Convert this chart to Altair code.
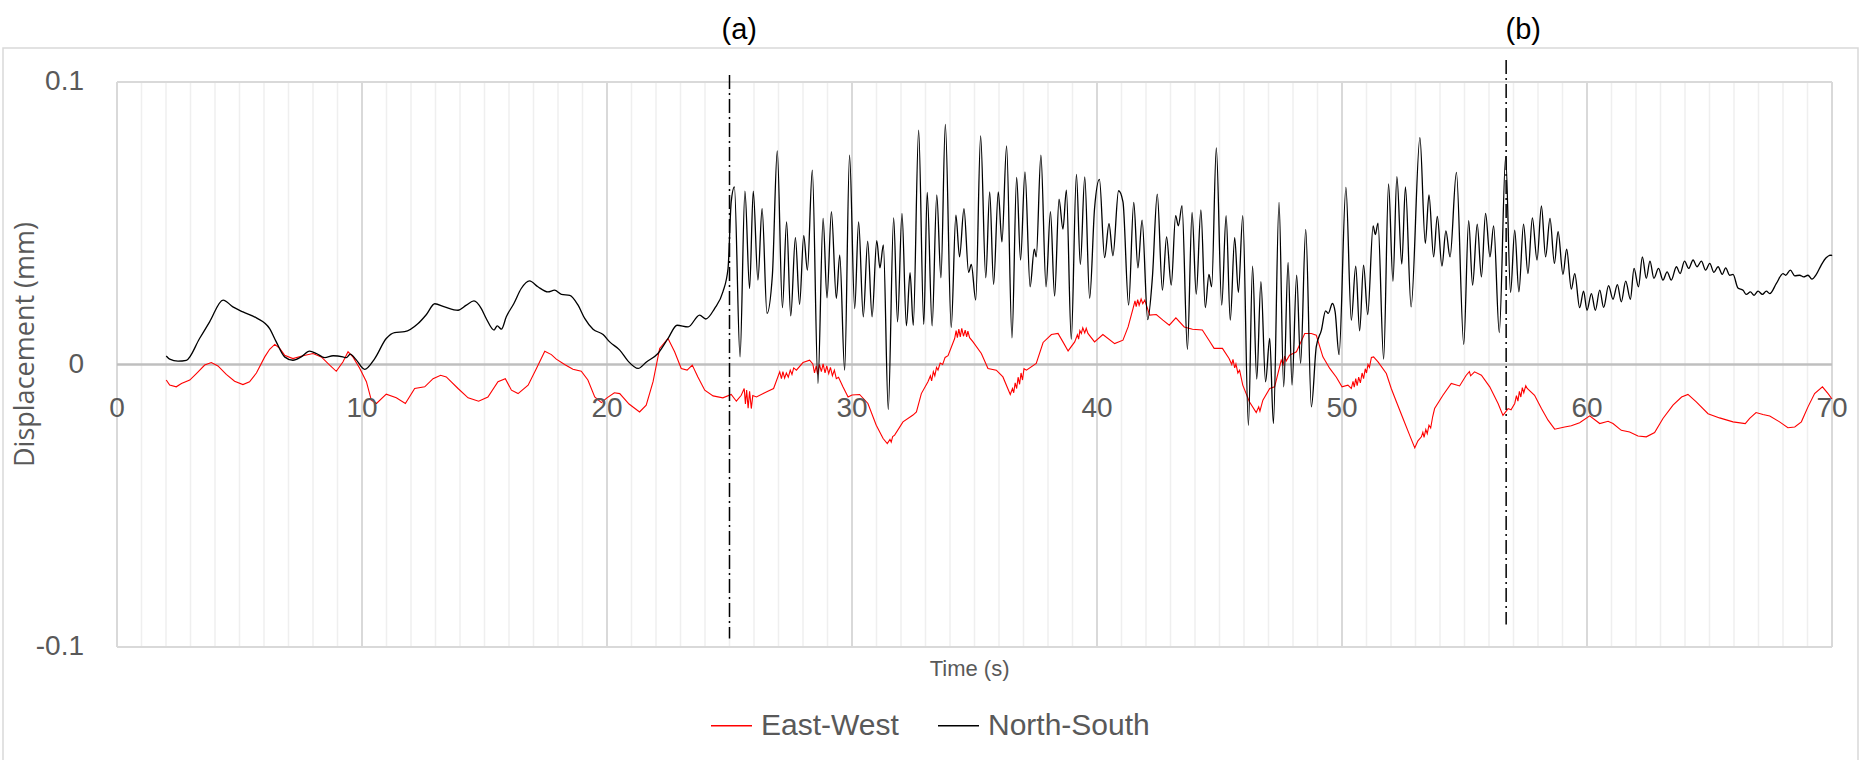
import altair as alt
import pandas as pd

# ---------------- data ----------------
ns_t = [2.01, 2.15, 2.49, 2.83, 3.37, 3.78, 4.33, 4.73, 5.14, 5.69, 6.23, 6.50, 6.84, 7.18, 7.52, 7.86, 8.14, 8.48, 8.82, 9.22, 9.36, 9.52, 9.75,
        10.11, 10.52, 10.99, 11.33, 11.74, 12.29, 12.63, 12.97, 13.37, 13.92, 14.26, 14.57, 14.87, 15.07, 15.39, 15.52, 15.69, 15.89,
        16.20, 16.50, 16.84, 17.18, 17.59, 17.86, 18.14, 18.48, 18.82, 19.09, 19.43, 19.84, 20.11, 20.52, 20.86, 21.27, 21.61, 22.08,
        22.49, 22.86, 23.31, 23.78, 24.03, 24.39, 24.73, 24.94, 25.07, 25.20, 25.43, 25.63, 25.82, 25.97, 26.16, 26.33, 26.53, 26.75,
        26.95, 27.16, 27.33, 27.50, 27.69, 27.86, 28.03, 28.18, 28.38, 28.61, 28.82, 28.98, 29.16, 29.36, 29.50, 29.70, 29.90,
        30.11, 30.27, 30.46, 30.64, 30.82, 31.01, 31.14, 31.28, 31.48, 31.70, 31.86, 32.04, 32.22, 32.37, 32.50, 32.72, 32.93, 33.07,
        33.27, 33.46, 33.63, 33.81, 34.05, 34.24, 34.39, 34.57, 34.76, 34.87, 35.05, 35.25, 35.46, 35.62, 35.78, 35.97, 36.12, 36.31,
        36.53, 36.72, 36.88, 37.06, 37.27, 37.44, 37.52, 37.71, 37.92, 38.10, 38.27, 38.45, 38.61, 38.75, 38.95, 39.16, 39.32, 39.50,
        39.70, 39.90, 40.10, 40.31, 40.49, 40.65, 40.88, 41.06, 41.29, 41.50, 41.67, 41.84, 42.07, 42.26, 42.46, 42.67, 42.84, 43.03,
        43.21, 43.32, 43.47, 43.69, 43.88, 44.05, 44.24, 44.42, 44.57, 44.68, 44.87, 45.09, 45.27, 45.44, 45.62, 45.77, 45.95, 46.18,
        46.35, 46.52, 46.69, 46.88, 47.05, 47.20, 47.43, 47.62, 47.80, 47.96, 48.15, 48.31, 48.52, 48.75, 48.95, 49.16, 49.33, 49.44,
        49.61, 49.72, 49.88, 50.16, 50.38, 50.56, 50.72, 50.88, 51.05, 51.27, 51.36, 51.47, 51.70, 51.90, 52.08, 52.24, 52.44, 52.59,
        52.82, 53.18, 53.40, 53.55, 53.74, 53.89, 54.08, 54.24, 54.41, 54.67, 54.97, 55.17, 55.33, 55.52, 55.69, 55.86, 56.04, 56.19,
        56.42, 56.68, 56.88, 57.05, 57.22, 57.41, 57.59, 57.77, 57.96, 58.14, 58.31, 58.49, 58.67, 58.82, 59.02, 59.17, 59.36, 59.50,
        59.70, 59.86, 60.00, 60.18, 60.34, 60.52, 60.68, 60.88, 61.06, 61.24, 61.40, 61.58, 61.77, 61.92, 62.10, 62.26, 62.42, 62.57,
        62.73, 62.92, 63.10, 63.27, 63.44, 63.65, 63.80, 63.98, 64.15, 64.33, 64.49, 64.67, 64.84, 65.01, 65.18, 65.35, 65.52, 65.66,
        65.82, 65.96, 66.16, 66.37, 66.50, 66.67, 66.82, 66.98, 67.16, 67.32, 67.46, 67.73, 68.00, 68.11, 68.30, 68.48, 68.68, 68.84,
        69.02, 69.18, 69.36, 69.56, 69.76, 69.97, 70.00]
ns_v = [0.0030, 0.0019, 0.0012, 0.0015, 0.0092, 0.0151, 0.0228, 0.0204, 0.0186, 0.0165, 0.0127, 0.0080, 0.0027, 0.0015, 0.0027, 0.0047, 0.0039, 0.0024, 0.0031, 0.0027, 0.0024, 0.0037, 0.0018,
        -0.0017, 0.0021, 0.0092, 0.0113, 0.0116, 0.0145, 0.0177, 0.0215, 0.0204, 0.0192, 0.0210, 0.0225, 0.0198, 0.0163, 0.0122, 0.0137, 0.0125, 0.0169,
        0.0216, 0.0269, 0.0296, 0.0275, 0.0257, 0.0263, 0.0248, 0.0245, 0.0210, 0.0163, 0.0125, 0.0106, 0.0080, 0.0051, 0.0012, -0.0014, 0.0009, 0.0039,
        0.0092, 0.0139, 0.0133, 0.0175, 0.0161, 0.0198, 0.0257, 0.0340, 0.0576, 0.0629, 0.0027, 0.0614, 0.0269, 0.0614, 0.0299, 0.0552, 0.0181, 0.0316,
        0.0756, 0.0201, 0.0505, 0.0172, 0.0449, 0.0213, 0.0456, 0.0334, 0.0688, -0.0067, 0.0517, 0.0236, 0.0541, 0.0234, 0.0387, -0.0020, 0.0741,
        0.0198, 0.0505, 0.0169, 0.0437, 0.0169, 0.0438, 0.0342, 0.0423, -0.0159, 0.0519, 0.0151, 0.0535, 0.0137, 0.0325, 0.0139, 0.0830, 0.0142, 0.0609,
        0.0137, 0.0600, 0.0307, 0.0850, 0.0131, 0.0529, 0.0381, 0.0552, 0.0326, 0.0354, 0.0228, 0.0809, 0.0307, 0.0611, 0.0284, 0.0611, 0.0434, 0.0774,
        0.0094, 0.0662, 0.0370, 0.0682, 0.0275, 0.0408, 0.0381, 0.0741, 0.0275, 0.0541, 0.0242, 0.0585, 0.0479, 0.0617, 0.0090, 0.0673, 0.0354, 0.0664,
        0.0234, 0.0552, 0.0655, 0.0378, 0.0499, 0.0385, 0.0615, 0.0576, 0.0210, 0.0574, 0.0342, 0.0511, 0.0159, 0.0307, 0.0603, 0.0263, 0.0452, 0.0281,
        0.0527, 0.0491, 0.0562, 0.0054, 0.0538, 0.0249, 0.0547, 0.0201, 0.0319, 0.0275, 0.0767, 0.0210, 0.0527, 0.0157, 0.0449, 0.0255, 0.0527, -0.0215,
        0.0348, -0.0052, 0.0293, -0.0061, 0.0092, -0.0209, 0.0574, -0.0079, 0.0361, -0.0073, 0.0316, 0.0004, 0.0478, -0.0150, 0.0063, 0.0122, 0.0190, 0.0181,
        0.0216, 0.0186, 0.0035, 0.0627, 0.0157, 0.0348, 0.0119, 0.0352, 0.0177, 0.0491, 0.0460, 0.0500, 0.0019, 0.0639, 0.0295, 0.0665, 0.0355, 0.0629,
        0.0204, 0.0803, 0.0429, 0.0600, 0.0381, 0.0524, 0.0348, 0.0473, 0.0381, 0.0680, 0.0071, 0.0509, 0.0281, 0.0497, 0.0310, 0.0535, 0.0381, 0.0491,
        0.0113, 0.0736, 0.0255, 0.0476, 0.0257, 0.0497, 0.0322, 0.0519, 0.0370, 0.0561, 0.0381, 0.0517, 0.0358, 0.0470, 0.0319, 0.0408, 0.0267, 0.0322,
        0.0201, 0.0260, 0.0192, 0.0251, 0.0192, 0.0263, 0.0202, 0.0279, 0.0231, 0.0283, 0.0222, 0.0295, 0.0231, 0.0340, 0.0275, 0.0381, 0.0305, 0.0366,
        0.0305, 0.0340, 0.0299, 0.0328, 0.0299, 0.0346, 0.0322, 0.0366, 0.0340, 0.0370, 0.0346, 0.0366, 0.0334, 0.0358, 0.0326, 0.0346, 0.0319, 0.0342,
        0.0316, 0.0319, 0.0271, 0.0263, 0.0248, 0.0257, 0.0245, 0.0260, 0.0248, 0.0260, 0.0251, 0.0287, 0.0322, 0.0316, 0.0334, 0.0314, 0.0316, 0.0310,
        0.0316, 0.0302, 0.0319, 0.0352, 0.0378, 0.0387, 0.0385]

# East-West series, (time, displacement) pairs, one list per ten seconds
ew_00 = [(2.01, -0.0055), (2.15, -0.0073), (2.42, -0.0079), (2.63, -0.0067), (2.97, -0.0055), (3.24, -0.0032), (3.58, -0.0002),
         (3.85, 0.0007), (4.12, -0.0005), (4.46, -0.0035), (4.80, -0.0059), (5.14, -0.0071), (5.41, -0.0061), (5.69, -0.0030),
         (6.03, 0.0027), (6.23, 0.0054), (6.44, 0.0071), (6.64, 0.0057), (6.84, 0.0033), (7.18, 0.0021), (7.59, 0.0031), (8.00, 0.0039),
         (8.34, 0.0027), (8.68, -0.0002), (8.95, -0.0024), (9.22, 0.0009), (9.43, 0.0045), (9.63, 0.0027), (9.90, -0.0012)]
ew_10 = [(10.18, -0.0061), (10.38, -0.0126), (10.59, -0.0138), (10.99, -0.0105), (11.40, -0.0118), (11.77, -0.0138), (12.15, -0.0085),
         (12.56, -0.0079), (12.90, -0.0050), (13.21, -0.0038), (13.44, -0.0044), (13.92, -0.0085), (14.33, -0.0118), (14.76, -0.0130),
         (15.14, -0.0115), (15.55, -0.0061), (15.85, -0.0050), (16.10, -0.0091), (16.37, -0.0103), (16.78, -0.0073), (17.12, -0.0014),
         (17.46, 0.0047), (17.73, 0.0035), (17.93, 0.0019), (18.27, 0.0000), (18.61, -0.0017), (18.95, -0.0024), (19.22, -0.0055),
         (19.50, -0.0115), (19.77, -0.0135)]
ew_20 = [(20.00, -0.0118), (20.30, -0.0100), (20.52, -0.0103), (20.90, -0.0140), (21.33, -0.0168), (21.60, -0.0144), (21.88, -0.0061),
         (22.15, 0.0057), (22.49, 0.0092), (22.76, 0.0045), (23.03, -0.0014), (23.27, -0.0020), (23.48, -0.0002), (23.71, -0.0044),
         (23.99, -0.0091), (24.33, -0.0111), (24.73, -0.0118), (25.07, -0.0106), (25.28, -0.0130), (25.48, -0.0109), (25.60, -0.0085),
         (25.65, -0.0140), (25.70, -0.0090), (25.76, -0.0155), (25.82, -0.0095), (25.89, -0.0156), (25.95, -0.0110), (26.10, -0.0115),
         (26.50, -0.0097), (26.80, -0.0085), (27.05, -0.0026), (27.12, -0.0050), (27.18, -0.0025), (27.25, -0.0048), (27.32, -0.0030),
         (27.40, -0.0045), (27.48, -0.0020), (27.55, -0.0035), (27.62, -0.0012), (27.73, -0.0020), (28.00, 0.0007), (28.27, 0.0015),
         (28.40, 0.0002), (28.47, -0.0030), (28.54, -0.0005), (28.60, -0.0035), (28.67, 0.0000), (28.75, -0.0025), (28.82, 0.0002),
         (28.90, -0.0030), (28.97, -0.0005), (29.05, -0.0032), (29.12, -0.0010), (29.20, -0.0040), (29.28, -0.0020), (29.36, -0.0050),
         (29.45, -0.0045), (29.63, -0.0079), (29.84, -0.0115)]
ew_30 = [(30.00, -0.0108), (30.31, -0.0106), (30.65, -0.0138), (30.99, -0.0215), (31.27, -0.0262), (31.44, -0.0280), (31.55, -0.0265),
         (31.60, -0.0275), (31.66, -0.0255), (31.74, -0.0250), (32.08, -0.0203), (32.49, -0.0179), (32.63, -0.0168), (32.83, -0.0103),
         (33.10, -0.0061), (33.20, -0.0040), (33.25, -0.0058), (33.32, -0.0025), (33.38, -0.0040), (33.45, -0.0010), (33.51, -0.0020),
         (33.60, 0.0005), (33.70, 0.0000), (33.80, 0.0025), (33.92, 0.0031), (34.19, 0.0092), (34.25, 0.0120), (34.30, 0.0095),
         (34.36, 0.0125), (34.42, 0.0098), (34.48, 0.0128), (34.55, 0.0100), (34.62, 0.0122), (34.68, 0.0098), (34.73, 0.0118),
         (34.80, 0.0095), (34.94, 0.0080), (35.28, 0.0039), (35.55, -0.0014), (35.89, -0.0020), (36.16, -0.0044), (36.46, -0.0106),
         (36.55, -0.0085), (36.60, -0.0100), (36.66, -0.0065), (36.72, -0.0085), (36.78, -0.0045), (36.84, -0.0070), (36.90, -0.0030),
         (36.96, -0.0055), (37.02, -0.0015), (37.12, -0.0020), (37.52, 0.0004), (37.80, 0.0078), (38.14, 0.0106), (38.41, 0.0110),
         (38.61, 0.0080), (38.82, 0.0048), (39.09, 0.0080), (39.20, 0.0105), (39.25, 0.0090), (39.30, 0.0120), (39.36, 0.0110),
         (39.42, 0.0130), (39.50, 0.0112), (39.56, 0.0128), (39.63, 0.0110), (39.90, 0.0080)]
ew_40 = [(40.24, 0.0106), (40.72, 0.0074), (41.06, 0.0086), (41.27, 0.0133), (41.47, 0.0198), (41.55, 0.0225), (41.60, 0.0205),
         (41.66, 0.0230), (41.72, 0.0210), (41.80, 0.0232), (41.87, 0.0215), (41.95, 0.0228), (42.15, 0.0175), (42.42, 0.0177),
         (42.69, 0.0157), (42.95, 0.0139), (43.22, 0.0165), (43.56, 0.0133), (43.90, 0.0125), (44.30, 0.0122), (44.57, 0.0086),
         (44.78, 0.0057), (45.12, 0.0057), (45.39, 0.0021), (45.50, 0.0000), (45.55, 0.0018), (45.62, -0.0012), (45.67, 0.0002),
         (45.75, -0.0030), (45.82, -0.0020), (45.95, -0.0073), (46.22, -0.0132), (46.50, -0.0170), (46.60, -0.0150), (46.65, -0.0165),
         (46.77, -0.0126), (47.05, -0.0085), (47.25, -0.0079), (47.52, 0.0015), (47.60, 0.0000), (47.66, 0.0030), (47.72, 0.0012),
         (47.86, 0.0033), (48.14, 0.0045), (48.48, 0.0110), (48.75, 0.0110), (48.95, 0.0104), (49.22, 0.0027), (49.50, -0.0014),
         (49.77, -0.0045)]
ew_50 = [(50.00, -0.0079), (50.24, -0.0073), (50.38, -0.0085), (50.45, -0.0060), (50.50, -0.0080), (50.56, -0.0050), (50.62, -0.0075),
         (50.68, -0.0045), (50.75, -0.0065), (50.82, -0.0030), (50.88, -0.0050), (50.95, -0.0015), (51.00, -0.0030), (51.06, 0.0000),
         (51.12, -0.0010), (51.20, 0.0025), (51.29, 0.0027), (51.47, 0.0009), (51.81, -0.0032), (52.01, -0.0085), (52.22, -0.0132),
         (52.49, -0.0191), (52.76, -0.0250), (52.97, -0.0295), (53.10, -0.0270), (53.24, -0.0256), (53.30, -0.0240), (53.35, -0.0258),
         (53.42, -0.0230), (53.48, -0.0245), (53.55, -0.0215), (53.62, -0.0225), (53.70, -0.0185), (53.78, -0.0156), (54.12, -0.0109),
         (54.46, -0.0067), (54.80, -0.0076), (55.07, -0.0038), (55.20, -0.0025), (55.25, -0.0040), (55.41, -0.0026), (55.69, -0.0038),
         (56.03, -0.0079), (56.37, -0.0138), (56.57, -0.0180), (56.78, -0.0156), (56.90, -0.0160), (57.05, -0.0138), (57.12, -0.0110),
         (57.18, -0.0130), (57.24, -0.0095), (57.30, -0.0115), (57.36, -0.0082), (57.42, -0.0100), (57.50, -0.0075), (57.56, -0.0085),
         (57.86, -0.0109), (58.14, -0.0156), (58.41, -0.0197), (58.68, -0.0229), (59.09, -0.0221), (59.36, -0.0217), (59.70, -0.0206)]
ew_60 = [(60.11, -0.0182), (60.52, -0.0209), (60.86, -0.0201), (61.06, -0.0209), (61.40, -0.0233), (61.74, -0.0239), (62.08, -0.0253),
         (62.42, -0.0256), (62.76, -0.0241), (63.10, -0.0191), (63.51, -0.0144), (63.86, -0.0115), (64.12, -0.0106), (64.46, -0.0132),
         (64.94, -0.0174), (65.41, -0.0189), (65.96, -0.0203), (66.46, -0.0209), (66.64, -0.0191), (66.90, -0.0170), (67.18, -0.0177),
         (67.46, -0.0182), (67.86, -0.0203), (68.20, -0.0224), (68.48, -0.0221), (68.75, -0.0203), (69.02, -0.0150), (69.29, -0.0103),
         (69.61, -0.0079), (69.84, -0.0103), (70.00, -0.0122)]

series_names = ["East-West", "North-South"]
series_colors = ["#ff0000", "#000000"]

x_major = [0, 10, 20, 30, 40, 50, 60, 70]
x_major_labels = ["0", "10", "20", "30", "40", "50", "60", "70"]
x_minor = [1, 2, 3, 4, 5, 6, 7, 8, 9, 11, 12, 13, 14, 15, 16, 17, 18, 19, 21, 22, 23, 24, 25, 26, 27, 28, 29,
           31, 32, 33, 34, 35, 36, 37, 38, 39, 41, 42, 43, 44, 45, 46, 47, 48, 49, 51, 52, 53, 54, 55, 56, 57, 58, 59,
           61, 62, 63, 64, 65, 66, 67, 68, 69]
y_ticks = [0.1, 0, -0.1]
y_tick_labels = ["0.1", "0", "-0.1"]
y_edges = [0.1, -0.1]

marker_t = [25.0, 56.7]
marker_top = [0.1025, 0.1078]
marker_bottom = [-0.097, -0.092]
marker_label_t = [25.4, 57.4]
marker_labels = ["(a)", "(b)"]

# ---------------- chart ----------------
W, H = 1715, 565
FONT = "Liberation Sans Narrow, Arial Narrow, Liberation Sans, sans-serif"
GREY = "#595959"

xs = alt.Scale(domain=[0, 70], nice=False, zero=False)
ys = alt.Scale(domain=[-0.1, 0.1], nice=False, zero=False)

ew_pts = ew_00 + ew_10 + ew_20 + ew_30 + ew_40 + ew_50 + ew_60
df_ew = pd.DataFrame({"t": [p[0] for p in ew_pts], "v": [p[1] for p in ew_pts], "s": series_names[0]})
df_ns = pd.DataFrame({"t": ns_t, "v": ns_v, "s": series_names[1]})

one = pd.DataFrame({"k": [0]})

border = alt.Chart(one).mark_rect(fill="white", fillOpacity=0, stroke="#d9d9d9", strokeWidth=1.5).encode(
    x=alt.value(-114), x2=alt.value(1741), y=alt.value(-34), y2=alt.value(700))

minor = alt.Chart(pd.DataFrame({"t": x_minor})).mark_rule(color="#efefef", strokeWidth=1.5).encode(
    x=alt.X("t:Q", scale=xs, axis=None), y=alt.value(0), y2=alt.value(H))
major = alt.Chart(pd.DataFrame({"t": x_major})).mark_rule(color="#d9d9d9", strokeWidth=2).encode(
    x=alt.X("t:Q", scale=xs, axis=None), y=alt.value(0), y2=alt.value(H))
edges = alt.Chart(pd.DataFrame({"v": y_edges})).mark_rule(color="#d9d9d9", strokeWidth=2).encode(
    y=alt.Y("v:Q", scale=ys, axis=None), x=alt.value(0), x2=alt.value(W))
zero = alt.Chart(pd.DataFrame({"v": [0]})).mark_rule(color="#bfbfbf", strokeWidth=2.5).encode(
    y=alt.Y("v:Q", scale=ys, axis=None), x=alt.value(0), x2=alt.value(W))

# tick labels (the horizontal axis crosses at zero, as in the reference)
x_labels = alt.Chart(pd.DataFrame({"t": x_major, "lab": x_major_labels})).mark_text(
    font=FONT, fontSize=28, color=GREY, align="center", baseline="alphabetic").encode(
    x=alt.X("t:Q", scale=xs, axis=None), y=alt.value(H / 2 + 52), text="lab:N")
y_labels = alt.Chart(pd.DataFrame({"v": y_ticks, "lab": y_tick_labels})).mark_text(
    font=FONT, fontSize=28, color=GREY, align="right", baseline="middle").encode(
    y=alt.Y("v:Q", scale=ys, axis=None), x=alt.value(-33), text="lab:N")
y_title = alt.Chart(pd.DataFrame({"lab": ["Displacement (mm)"]})).mark_text(
    font="Open Sans", fontSize=27, color=GREY, align="center", baseline="middle", angle=270).encode(
    x=alt.value(-91), y=alt.value(H / 2 - 20), text="lab:N")

legend = alt.Legend(orient="none", legendX=593, legendY=622, direction="horizontal",
                    title=None, symbolType="stroke", symbolSize=1681,
                    symbolStrokeWidth=1.5, labelFont=FONT, labelFontSize=30, labelLimit=600,
                    labelColor=GREY, columnPadding=36, labelOffset=8)
color = alt.Color("s:N", scale=alt.Scale(domain=series_names, range=series_colors), legend=legend)

ew_line = alt.Chart(df_ew).mark_line(strokeWidth=1.1).encode(
    x=alt.X("t:Q", scale=xs, axis=None),
    y=alt.Y("v:Q", scale=ys, axis=None),
    color=color,
    order=alt.Order("t:Q"),
)
ns_line = alt.Chart(df_ns).mark_line(strokeWidth=1.3, interpolate="monotone").encode(
    x=alt.X("t:Q", scale=xs, axis=None),
    y=alt.Y("v:Q", scale=ys, axis=None),
    color=color,
    order=alt.Order("t:Q"),
)

markers = alt.Chart(pd.DataFrame({"t": marker_t, "top": marker_top, "bot": marker_bottom})).mark_rule(
    color="black", strokeWidth=1.5, strokeDash=[14, 4, 2, 4]).encode(
    x=alt.X("t:Q", scale=xs, axis=None), y=alt.Y("top:Q", scale=ys, axis=None), y2="bot:Q")

marker_text = alt.Chart(pd.DataFrame({"t": marker_label_t, "lab": marker_labels, "y": [0.1183, 0.1183]})).mark_text(
    font=FONT, fontSize=29, color="black", baseline="middle", align="center").encode(
    x=alt.X("t:Q", scale=xs, axis=None), y=alt.Y("y:Q", scale=ys, axis=None), text="lab:N")

xtitle = alt.Chart(pd.DataFrame({"t": [34.8], "y": [-0.1078], "lab": ["Time (s)"]})).mark_text(
    font=FONT, fontSize=22, color=GREY, baseline="middle", align="center").encode(
    x=alt.X("t:Q", scale=xs, axis=None), y=alt.Y("y:Q", scale=ys, axis=None), text="lab:N")

chart = alt.layer(border, minor, major, edges, zero, ew_line, ns_line, markers,
                  x_labels, y_labels, y_title, marker_text, xtitle).properties(
    width=W, height=H,
    padding={"left": 117, "top": 82, "right": 32, "bottom": 113},
    autosize=alt.AutoSizeParams(type="none"),
    background="white",
).configure_view(stroke=None)

chart.save("out.html", embed_options={"renderer": "svg", "actions": False})
